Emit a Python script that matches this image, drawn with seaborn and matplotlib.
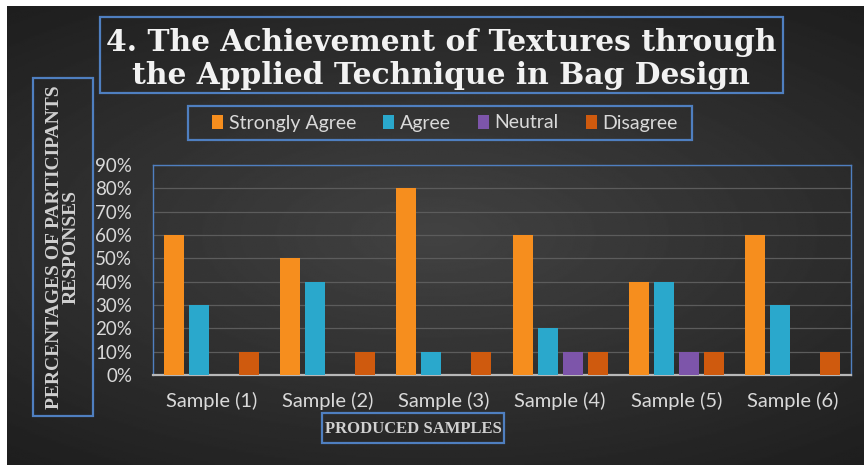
import numpy as np
import pandas as pd
import seaborn as sns
import matplotlib.pyplot as plt
from matplotlib.patches import Rectangle, Patch
from matplotlib.ticker import PercentFormatter

# data
samples = ["Sample (1)", "Sample (2)", "Sample (3)", "Sample (4)", "Sample (5)", "Sample (6)"]
strongly_agree = [60, 50, 80, 60, 40, 60]
agree = [30, 40, 10, 20, 40, 30]
neutral = [0, 0, 0, 10, 10, 0]
disagree = [10, 10, 10, 10, 10, 10]
responses = ["Strongly Agree", "Agree", "Neutral", "Disagree"]
colors = ["#F68E1E", "#2AA8CC", "#7D55AA", "#CF5A0E"]

df = pd.DataFrame({
    "Sample": samples * 4,
    "Response": [r for r in responses for _ in samples],
    "Value": [v / 100 for v in strongly_agree + agree + neutral + disagree],
})

sns.set_style("dark")
W, H = 864, 465
fig = plt.figure(figsize=(W / 100, H / 100), dpi=100, facecolor="white")

# dark radial background
bg = fig.add_axes([7 / W, 0, (W - 7) / W, (H - 6) / H])
yy, xx = np.mgrid[-1:1:300j, -1:1:500j]
r = np.sqrt((xx * 0.9) ** 2 + (yy * 1.1) ** 2)
bg.imshow(0.26 - 0.1 * np.clip(r, 0, 1.4), cmap="gray", vmin=0, vmax=1,
          aspect="auto", extent=[0, 1, 0, 1])
bg.set_axis_off()

def fbox(x0, y0, x1, y1):
    # pixel box (top-left origin) drawn in figure coords
    fig.patches.append(Rectangle((x0 / W, 1 - y1 / H), (x1 - x0) / W, (y1 - y0) / H,
                                 transform=fig.transFigure, fill=False,
                                 edgecolor="#4F7FC0", lw=1.6, zorder=5))

ax = fig.add_axes([153 / W, (H - 375) / H, (851 - 153) / W, (375 - 165) / H])
ax.patch.set_alpha(0)
sns.barplot(data=df, x="Sample", y="Value", hue="Response", palette=colors,
            width=0.86, gap=0.2, ax=ax, legend=False, saturation=1,
            edgecolor="none", linewidth=0, zorder=3)

ax.set_ylim(0, 0.9)
ax.set_yticks(np.arange(0, 0.91, 0.1))
ax.yaxis.set_major_formatter(PercentFormatter(1.0, decimals=0))
ax.grid(axis="y", color="#5C5C5C", lw=0.9, zorder=0)
ax.grid(axis="x", visible=False)
ax.tick_params(axis="y", length=0, pad=15, labelsize=13.5, labelcolor="#D9D9D9")
ax.tick_params(axis="x", length=0, pad=12, labelsize=14.5, labelcolor="#D9D9D9")
for lab in ax.get_xticklabels() + ax.get_yticklabels():
    lab.set_family("Lato")
ax.set_xlabel("")
ax.set_ylabel("")
for s in ax.spines.values():
    s.set_visible(True)
    s.set_color("#4F7FC0")
    s.set_linewidth(1.0)
ax.spines["bottom"].set_color("#B8B8B8")
ax.spines["bottom"].set_linewidth(1.6)

# title
fbox(100, 17, 783, 93)
fig.text(441 / W, 1 - 59 / H, "4. The Achievement of Textures through\nthe Applied Technique in Bag Design",
         ha="center", va="center", fontsize=21.4, fontweight="bold", family="DejaVu Serif",
         color="#F2F2F2", linespacing=1.2)

# legend
fbox(188, 106, 692, 140)
handles = [Patch(facecolor=c, edgecolor="none") for c in colors]
leg = fig.legend(handles, responses, loc="center", bbox_to_anchor=(445 / W, 1 - 123 / H),
                 ncol=4, frameon=False, handlelength=0.55, handleheight=0.75,
                 handletextpad=0.3, columnspacing=1.4,
                 prop={"family": "Lato", "size": 14})
for t in leg.get_texts():
    t.set_color("#D9D9D9")

# y axis title
fbox(33, 78, 93, 416)
fig.text(63 / W, 1 - 247 / H, "PERCENTAGES OF PARTICIPANTS\nRESPONSES", rotation=90,
         ha="center", va="center", fontsize=14, fontweight="bold",
         family="Liberation Serif", color="#D0D0D0", linespacing=1.0)

# x axis title
fbox(322, 413, 504, 443)
fig.text(413 / W, 1 - 429 / H, "PRODUCED SAMPLES", ha="center", va="center",
         fontsize=12, fontweight="bold", family="Liberation Serif", color="#D0D0D0")

fig.savefig("out.png", dpi=100, facecolor="white")
